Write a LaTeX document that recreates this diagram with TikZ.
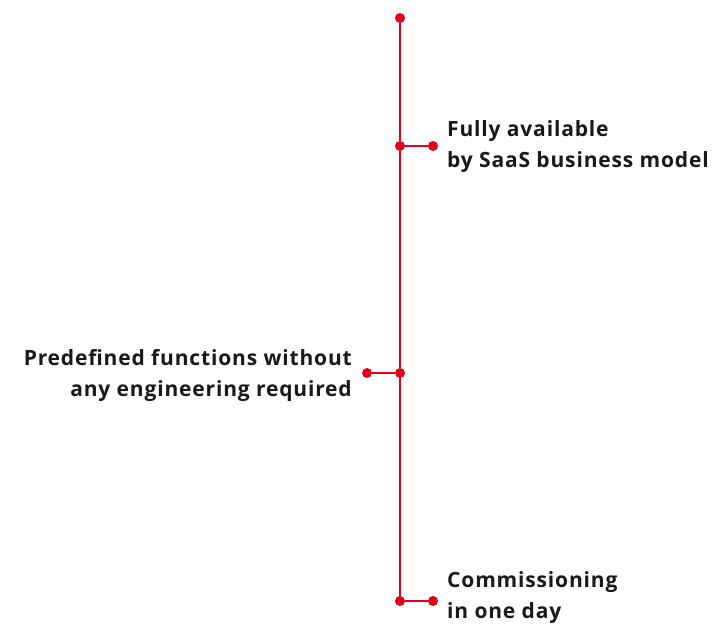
\documentclass[tikz,border=0pt]{standalone}
\usepackage{fontspec}
\setmainfont[LetterSpace=4]{Open Sans}
\usetikzlibrary{positioning}
\definecolor{abbred}{RGB}{228,0,27}
\tikzset{
	reddot/.style={circle,fill=abbred,inner sep=0pt,minimum size=10pt},
	redline/.style={draw=abbred,line width=2pt},
	label txt/.style={font=\bfseries\fontsize{21}{31}\selectfont,inner sep=0pt,text=black!90}
}

\begin{document}
\begin{tikzpicture}[x=1pt,y=-1pt]
			\useasboundingbox (0,0) rectangle (716,625);
			\node[reddot] (top) at (400,18) {};
			\node[reddot] (saas) at (400,146) {}; \node[reddot] (saasend) at (433,146) {};
			\node[reddot] (func) at (400,373) {}; \node[reddot] (funcend) at (367,373) {};
			\node[reddot] (comm) at (400,601) {}; \node[reddot] (commend) at (433,601) {};
			
			\draw[redline] (top) -- (saas) -- (func) -- (comm);
			\draw[redline] (saas) -- (saasend);
			\draw[redline] (func) -- (funcend);
			\draw[redline] (comm) -- (commend);
			
			\node[label txt,align=left,anchor=west] (saastxt) at (447,147) {Fully available\\by SaaS business model};
			\node[label txt,align=right,anchor=east] (functxt) at (352,375) {Predefined functions without\\any engineering required};
			\node[label txt,align=left,anchor=west] (commtxt) at (447,598) {Commissioning\\in one day};
\end{tikzpicture}
\end{document}
